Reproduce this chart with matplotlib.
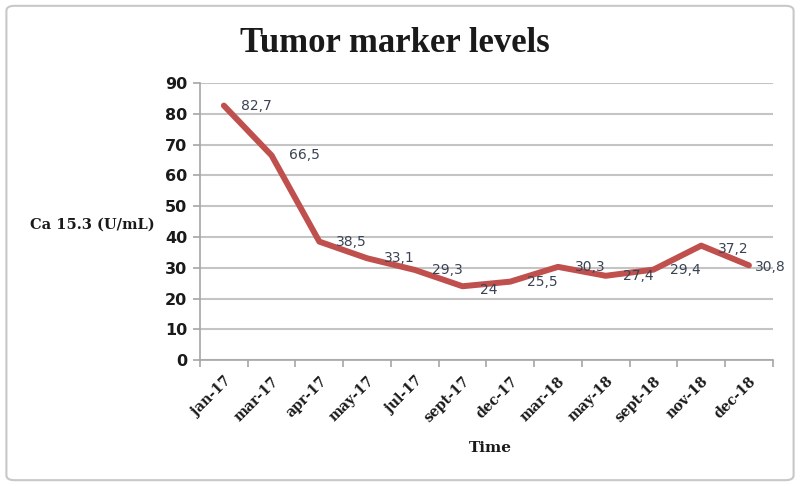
import matplotlib
matplotlib.use("Agg")
import matplotlib.pyplot as plt
from matplotlib.patches import FancyBboxPatch

categories = ["jan-17", "mar-17", "apr-17", "may-17", "jul-17", "sept-17",
              "dec-17", "mar-18", "may-18", "sept-18", "nov-18", "dec-18"]
values = [82.7, 66.5, 38.5, 33.1, 29.3, 24, 25.5, 30.3, 27.4, 29.4, 37.2, 30.8]
labels = ["82,7", "66,5", "38,5", "33,1", "29,3", "24", "25,5", "30,3",
          "27,4", "29,4", "37,2", "30,8"]
yticks = [0, 10, 20, 30, 40, 50, 60, 70, 80, 90]

# label offsets in pixels (style only)
label_dx = [17] * 11 + [6]
label_dy = [0, 0, 0, 0, 0, -4, 0, 0, 0, 0, -3, -2]

fig = plt.figure(figsize=(8, 4.86), dpi=100)
fig.patch.set_facecolor("white")
border = FancyBboxPatch((0.008, 0.012), 0.984, 0.976, boxstyle="round,pad=0,rounding_size=0.01",
                        transform=fig.transFigure, fill=False, edgecolor="#c8c8c8", linewidth=1.5)
fig.patches.append(border)

ax = fig.add_axes([0.25, 0.259, 0.716, 0.57])
x = list(range(len(categories)))
ax.plot(x, values, color="#c0504d", linewidth=4.3, solid_joinstyle="round",
        solid_capstyle="round", zorder=3)

for xi, v, lab, dx, dy in zip(x, values, labels, label_dx, label_dy):
    ax.annotate(lab, (xi, v), xytext=(dx, dy), textcoords="offset pixels",
                ha="left", va="center", fontsize=10, color="#3a4354",
                family="DejaVu Sans", zorder=4)

ax.set_xlim(-0.5, len(categories) - 0.5)
ax.set_ylim(0, 90)
ax.set_yticks(yticks)
ax.set_yticklabels([str(t) for t in yticks], fontsize=11.5, fontweight="bold", color="#1a1a1a")
ax.yaxis.grid(True, color="#c4c4c4", linewidth=1.5)
ax.set_axisbelow(True)

ax.set_xticks([i - 0.5 for i in range(len(categories) + 1)], minor=False)
ax.set_xticklabels([])
ax.set_xticks(x, minor=True)
ax.set_xticklabels(categories, minor=True, rotation=45, ha="right", rotation_mode="anchor",
                   fontsize=10, fontweight="bold", family="DejaVu Serif", color="#1a1a1a")
ax.tick_params(axis="x", which="minor", length=0, pad=10)
ax.tick_params(axis="x", which="major", length=5, color="#a6a6a6", width=1.2)
ax.tick_params(axis="y", length=5, color="#a6a6a6", width=1.2, pad=4)

for s in ["top", "right"]:
    ax.spines[s].set_visible(False)
ax.spines["left"].set_color("#a6a6a6")
ax.spines["bottom"].set_color("#a6a6a6")
ax.spines["left"].set_linewidth(1.2)
ax.spines["bottom"].set_linewidth(1.2)

fig.text(0.494, 0.91, "Tumor marker levels", ha="center", va="center",
         fontsize=25, fontweight="bold", family="Liberation Serif", color="#1a1a1a")
fig.text(0.115, 0.537, "Ca 15.3 (U/mL)", ha="center", va="center",
         fontsize=10.5, fontweight="bold", family="DejaVu Serif", color="#1a1a1a")
fig.text(0.613, 0.078, "Time", ha="center", va="center",
         fontsize=11, fontweight="bold", family="DejaVu Serif", color="#1a1a1a")

fig.savefig("out.png", dpi=100)
